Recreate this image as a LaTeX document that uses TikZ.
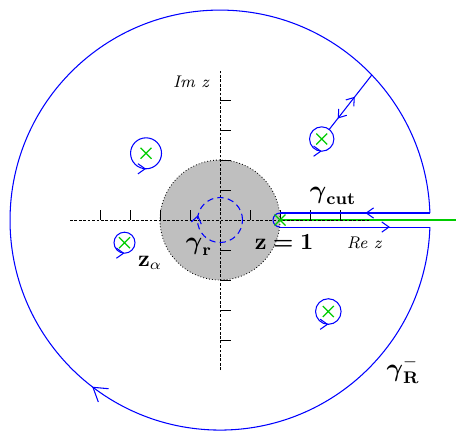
\documentclass[tikz,border=0pt]{standalone}
\usepackage{amsmath,amssymb}
\usetikzlibrary{arrows.meta,calc,decorations.markings,shapes.misc}
\tikzset{
  kis/.tip={Straight Barb[length=1.2mm,width=1.7mm]},
  nagy/.tip={Straight Barb[length=2.2mm,width=2.8mm]},
  kontur/.style={draw=blue,line width=0.5pt},
  hurok/.style={draw=blue,line width=0.5pt},
  tengely/.style={dash pattern=on 1.3pt off 0.8pt,line width=0.45pt},
  jel/.style={line width=0.45pt},
  polus/.style={cross out,draw=green!80!black,line width=0.6pt,minimum size=4.6pt,inner sep=0pt},
  korong/.style={fill=gray!50,draw,densely dotted,line width=0.4pt},
  nyil/.style={postaction={decorate,decoration={markings,mark=at position #1 with {\arrow{kis}}}}},
  vnyil/.style={postaction={decorate,decoration={markings,mark=at position #1 with {\arrowreversed{kis}}}}},
  nnyil/.style={postaction={decorate,decoration={markings,mark=at position #1 with {\arrow{nagy}}}}},
  cimke/.style={font=\large},
  zcimke/.style={font=\fontsize{10.5}{12}\selectfont},
  tcimke/.style={font=\footnotesize\itshape},
}
\begin{document}
\begin{tikzpicture}
  \useasboundingbox (-3.667,-3.517) rectangle (3.933,3.667);
  % poles
  \coordinate (p0) at (1,0);
  \coordinate (p1) at (1.695,1.35);
  \coordinate (p2) at (-1.233,1.112);
  \coordinate (p3) at (-1.592,-0.378);
  \coordinate (p4) at (1.805,-1.525);
  \coordinate (sug) at (43.7:3.5);
  % disk and branch cut
  \fill[korong] (0,0) circle[radius=1];
  \draw[green!80!black,line width=0.6pt] (p0) -- (3.933,0);
  % axes
  \draw[tengely] (-2.5,0) -- (2.5,0);
  \draw[tengely] (0,-2.5) -- (0,2.5);
  \foreach \t in {-2,-1.5,-1,-0.5,0.5,1,1.5,2} {
    \draw[jel] (\t,0) -- ++(0,0.175);
    \draw[jel] (0,\t) -- ++(0.175,0);
  }
  % contour
  \draw[kontur,nyil=0.733] (1,-0.117) -- (3.498,-0.117);
  \draw[kontur,nnyil=0.3526] (3.498,-0.117) arc[start angle=-1.9,end angle=-358.1,radius=3.5];
  \draw[kontur,nyil=0.43] (3.498,0.117) -- (1,0.117);
  \draw[kontur] (1,0.117) arc[start angle=90,end angle=270,radius=0.117];
  \draw[kontur,dash pattern=on 3pt off 2pt,vnyil=0.465] (0,0) circle[radius=0.375];
  \draw[kontur,nyil=0.6,vnyil=0.2] ($(p1)!0.203cm!(sug)$) -- (sug);
  % loops round the poles
  \draw[hurok,nyil=0.75] (p1) circle[radius=0.203];
  \draw[hurok,nyil=0.75] (p2) circle[radius=0.258];
  \draw[hurok,nyil=0.75] (p3) circle[radius=0.175];
  \draw[hurok,nyil=0.75] (p4) circle[radius=0.213];
  \foreach \p in {p0,p1,p2,p3,p4}
    \node[polus] (x\p) at (\p) {};
  % labels
  \node[tcimke] (im) at (-0.483,2.3) {Im z};
  \node[tcimke] (re) at (2.4,-0.383) {Re z};
  \node[cimke] (gcut) at (1.883,0.4) {$\boldsymbol{\gamma}_{\mathbf{cut}}$};
  \node[cimke] (gr) at (-0.35,-0.45) {$\boldsymbol{\gamma}_{\mathbf{r}}$};
  \node[cimke] (gR) at (3.05,-2.5) {$\boldsymbol{\gamma}^{-}_{\mathbf{R}}$};
  \node[zcimke] (zegy) at (1.067,-0.367) {$\mathbf{z}\boldsymbol{=}\mathbf{1}$};
  \node[zcimke] (zalfa) at (-1.167,-0.717) {$\mathbf{z}_{\alpha}$};
\end{tikzpicture}
\end{document}
